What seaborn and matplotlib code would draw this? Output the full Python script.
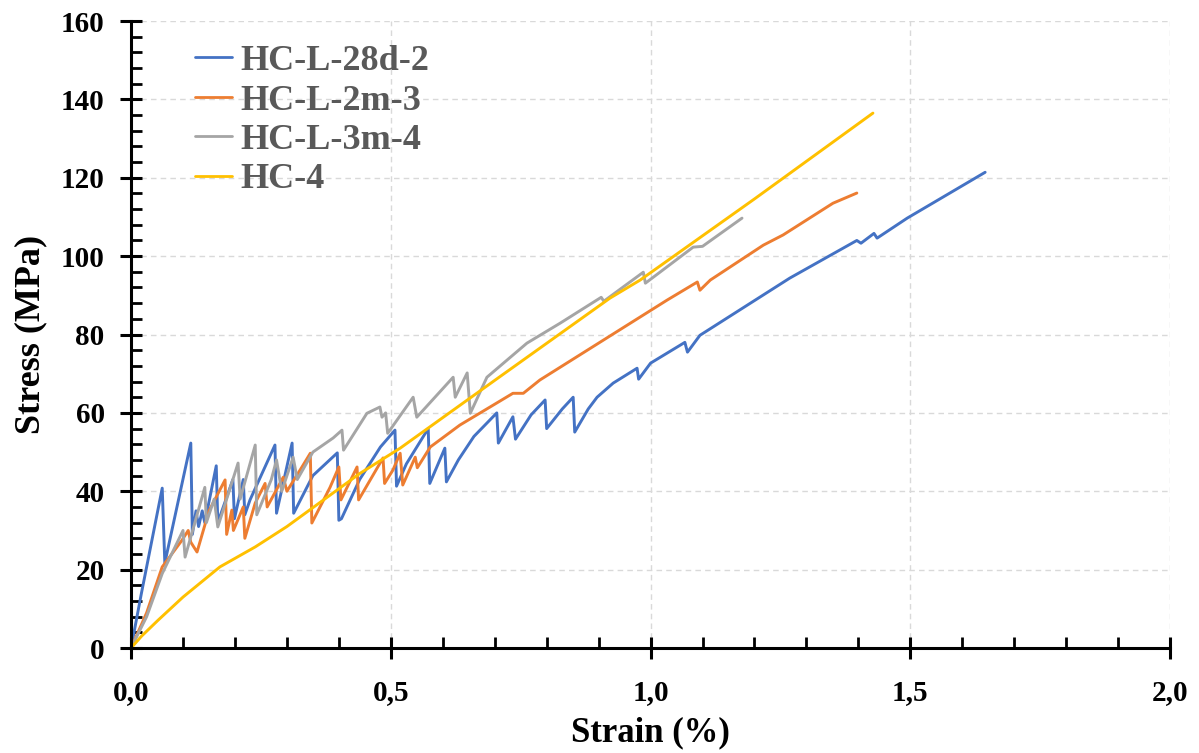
import pandas as pd
import matplotlib.pyplot as plt
import seaborn as sns
from matplotlib.ticker import MultipleLocator, FuncFormatter

# --- values ---
series_names = ['HC-L-28d-2', 'HC-L-2m-3', 'HC-L-3m-4', 'HC-4']
series_colors = ['#4472C4', '#ED7D31', '#A5A5A5', '#FFC000']

strain_28d = [0, 0.02, 0.060, 0.065, 0.09, 0.115, 0.118, 0.125, 0.13, 0.137, 0.142,
              0.164, 0.167, 0.196, 0.199, 0.216, 0.219, 0.229, 0.277, 0.28, 0.31,
              0.313, 0.35, 0.397, 0.40, 0.405, 0.44, 0.48, 0.508, 0.511, 0.53,
              0.572, 0.575, 0.604, 0.607, 0.63, 0.66, 0.704, 0.707, 0.735, 0.74,
              0.77, 0.797, 0.80, 0.83, 0.851, 0.854, 0.88, 0.897, 0.928, 0.974,
              0.977, 1.0, 1.066, 1.071, 1.095, 1.268, 1.397, 1.405, 1.43, 1.436,
              1.494, 1.644]
stress_28d = [0, 14, 40.8, 21.7, 37, 52.3, 29, 35, 31, 35, 32,
              46.5, 32, 43, 33, 43, 34, 37.8, 51.8, 34.4, 52.3,
              34.4, 44, 49.8, 32.6, 33, 43, 51.3, 55.6, 41.3, 47,
              56, 42, 51, 42.4, 48, 54, 60, 52.3, 59, 53.3,
              59.5, 63.3, 56, 61, 64, 55.1, 61, 64, 67.6, 71.4,
              68.6, 72.7, 78, 75.5, 79.8, 94.4, 104, 103.3, 105.8, 104.6,
              109.7, 121.4]

strain_2m = [0, 0.03, 0.06, 0.098, 0.11, 0.115, 0.127, 0.15, 0.181, 0.184, 0.194,
             0.197, 0.216, 0.219, 0.239, 0.258, 0.262, 0.293, 0.30, 0.329, 0.345,
             0.348, 0.383, 0.40, 0.404, 0.435, 0.438, 0.485, 0.488, 0.504, 0.518,
             0.523, 0.547, 0.551, 0.576, 0.633, 0.691, 0.735, 0.755, 0.787, 1.032,
             1.09, 1.095, 1.115, 1.217, 1.255, 1.351, 1.397]
stress_2m = [0, 9, 20.7, 27.5, 30, 27, 24.5, 35, 42.9, 29, 35.2,
             30, 36, 28, 37, 42, 36, 43.6, 40, 46.2, 49.7,
             31.9, 41, 46.2, 37.8, 46.2, 37.8, 48.5, 42, 45.4, 49.7,
             41.6, 48.7, 46, 51.3, 56.9, 61.5, 65, 65, 68.4, 88.8,
             93.4, 91.3, 93.9, 102.8, 105.4, 113.5, 116.1]

strain_3m = [0, 0.03, 0.06, 0.10, 0.104, 0.142, 0.145, 0.16, 0.167, 0.206, 0.21,
             0.239, 0.242, 0.27, 0.28, 0.29, 0.312, 0.32, 0.35, 0.389, 0.406,
             0.409, 0.454, 0.479, 0.483, 0.49, 0.494, 0.543, 0.55, 0.62, 0.624,
             0.647, 0.653, 0.685, 0.762, 0.826, 0.905, 0.91, 0.986, 0.99, 1.082,
             1.10, 1.176]
stress_3m = [0, 8, 19, 30, 23.2, 41, 32, 38, 30.9, 47.2, 38,
             51.8, 34, 43, 48, 40, 48.7, 43, 50, 53.6, 55.6,
             50.5, 59.9, 61.5, 58.9, 60, 54.8, 64, 58.9, 69.1, 64,
             70.2, 59.9, 69.1, 77.8, 82.9, 89.5, 88.5, 95.9, 93.1, 102.3,
             102.5, 109.7]

strain_hc4 = [0, 0.02, 0.052, 0.1, 0.171, 0.239, 0.3, 0.441, 0.518, 0.7, 0.922,
              0.98, 1.2, 1.428]
stress_hc4 = [0, 3, 7.1, 13, 20.7, 25.8, 31, 44.6, 51, 68.3, 89.3,
              93.9, 114.6, 136.5]

x_ticks = [0.0, 0.5, 1.0, 1.5, 2.0]
y_ticks = [0, 20, 40, 60, 80, 100, 120, 140, 160]

frames = []
for name, xs, ys in zip(series_names,
                        [strain_28d, strain_2m, strain_3m, strain_hc4],
                        [stress_28d, stress_2m, stress_3m, stress_hc4]):
    frames.append(pd.DataFrame({'strain': xs, 'stress': ys, 'sample': name}))
df = pd.concat(frames, ignore_index=True)

sns.set_theme(style="white")
plt.rcParams['font.family'] = ['Liberation Serif', 'DejaVu Serif']
plt.rcParams['font.weight'] = 'bold'

fig = plt.figure(figsize=(11.99, 7.53), dpi=100)
ax = fig.add_axes([0.1093, 0.1394, 0.8666, 0.8327])

sns.lineplot(data=df, x='strain', y='stress', hue='sample', hue_order=series_names,
             palette=series_colors, sort=False, estimator=None, linewidth=2.1, ax=ax)

ax.set_xlim(0, 2.0)
ax.set_ylim(0, 160)
ax.set_xticks(x_ticks)
ax.set_yticks(y_ticks)
ax.xaxis.set_minor_locator(MultipleLocator(0.1))
ax.yaxis.set_minor_locator(MultipleLocator(4))
ax.xaxis.set_major_formatter(FuncFormatter(lambda v, p: f'{v:.1f}'.replace('.', ',')))

ax.grid(True, which='major', color='#D9D9D9', linestyle=(0, (4, 3)), linewidth=1.0)
for s in ['top', 'right']:
    ax.spines[s].set_visible(False)
for s in ['left', 'bottom']:
    ax.spines[s].set_color('black')
    ax.spines[s].set_linewidth(2.2)

ax.tick_params(which='major', direction='inout', length=16, width=2.2, color='black',
               labelsize=21)
ax.tick_params(axis='x', which='major', pad=14)
ax.tick_params(axis='y', which='major', pad=11)
ax.tick_params(which='minor', direction='in', length=8, width=2.0, color='black')
ax.tick_params(axis='x', which='both', bottom=True)
ax.tick_params(axis='y', which='both', left=True)
for lbl in ax.get_xticklabels() + ax.get_yticklabels():
    lbl.set_fontweight('bold')
    lbl.set_color('black')

ax.set_xlabel('Strain (%)', fontsize=25, fontweight='bold', color='black', labelpad=8)
ax.set_ylabel('Stress (MPa)', fontsize=26, fontweight='bold', color='black', labelpad=10)

ax.legend(loc='upper left', bbox_to_anchor=(0.062, 0.962), frameon=False,
          borderpad=0, borderaxespad=0,
          prop={'size': 26, 'weight': 'bold'}, labelcolor='#595959',
          handlelength=1.0, handletextpad=0.25, labelspacing=0.17)
for line in ax.get_legend().get_lines():
    line.set_linewidth(2.0)

plt.savefig('out.png', dpi=100)
plt.close()
